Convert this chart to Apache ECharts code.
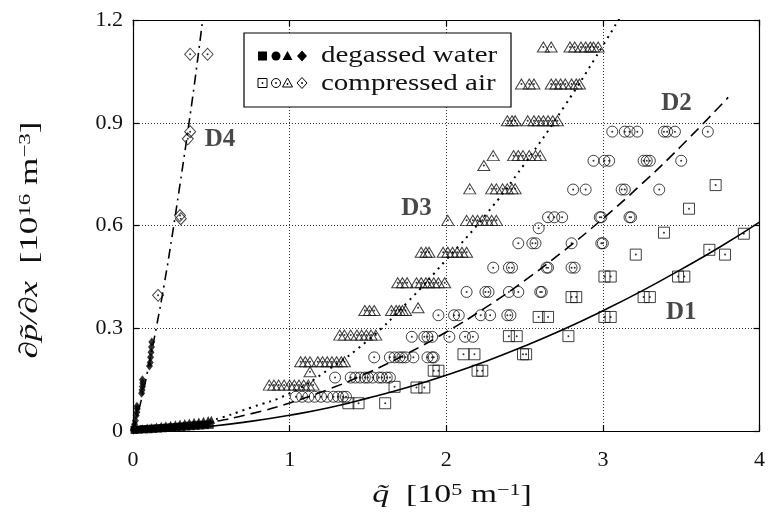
<!DOCTYPE html>
<html><head><meta charset="utf-8">
<script src="https://cdn.jsdelivr.net/npm/echarts@6/dist/echarts.min.js"></script>
<style>html,body{margin:0;padding:0;background:#fff}#c{width:768px;height:516px}</style>
</head><body><div id="c"></div>
<script>
// ---- tick labels ----
const xTickLabels = ['0', '1', '2', '3', '4'];
const yTickLabels = ['0', '0.3', '0.6', '0.9', '1.2'];

// ---- fitted curves ----
const curveD1 = [[0,0],[0.25,0.005],[0.5,0.014],[0.75,0.028],[1,0.046],[1.25,0.068],[1.5,0.096],[1.75,0.127],[2,0.163],[2.25,0.203],[2.5,0.248],[2.75,0.297],[3,0.351],[3.25,0.409],[3.5,0.472],[3.75,0.538],[4,0.61]];
const curveD2 = [[0,0],[0.25,0.009],[0.5,0.026],[0.75,0.05],[1,0.082],[1.25,0.122],[1.5,0.17],[1.75,0.226],[2,0.289],[2.25,0.36],[2.5,0.439],[2.75,0.526],[3,0.62],[3.25,0.722],[3.5,0.832],[3.8,0.974]];
const curveD3 = [[0,0],[0.25,0.008],[0.5,0.031],[0.75,0.068],[1,0.11],[1.25,0.18],[1.5,0.265],[1.75,0.375],[2,0.5],[2.25,0.63],[2.5,0.78],[2.75,0.945],[3,1.125],[3.15,1.24]];
const curveD4 = [[0,0],[0.05,0.085],[0.1,0.19],[0.15,0.305],[0.2,0.43],[0.25,0.57],[0.3,0.72],[0.35,0.875],[0.4,1.04],[0.45,1.22]];

// ---- degassed water (filled symbols) ----
const waterSquares = [[0.01,0.003],[0.04,0.004],[0.07,0.005],[0.10,0.005],[0.13,0.006],[0.16,0.007],[0.19,0.008],[0.22,0.009],[0.25,0.010],[0.28,0.011],[0.31,0.012],[0.34,0.013],[0.37,0.014],[0.40,0.015],[0.43,0.016],[0.46,0.017],[0.49,0.018]];
const waterCircles = [[0.02,0.004],[0.05,0.005],[0.08,0.006],[0.11,0.007],[0.14,0.008],[0.17,0.009],[0.20,0.010],[0.23,0.011],[0.26,0.012],[0.29,0.013],[0.32,0.014],[0.35,0.016],[0.38,0.017],[0.41,0.018],[0.44,0.019],[0.47,0.020]];
const waterTriangles = [[0.03,0.006],[0.06,0.008],[0.09,0.010],[0.12,0.012],[0.15,0.013],[0.18,0.015],[0.21,0.017],[0.24,0.018],[0.27,0.020],[0.30,0.022],[0.33,0.023],[0.36,0.025],[0.39,0.027],[0.42,0.028],[0.45,0.030],[0.48,0.032],[0.50,0.033]];
const waterDiamonds = [[0.002,0.002],[0.004,0.006],[0.006,0.012],[0.01,0.02],[0.015,0.03],[0.02,0.045],[0.025,0.055],[0.027,0.065],[0.025,0.072],[0.055,0.11],[0.058,0.12],[0.06,0.13],[0.062,0.14],[0.06,0.15],[0.105,0.19],[0.11,0.20],[0.112,0.215],[0.115,0.23],[0.118,0.245],[0.12,0.26]];

// ---- compressed air (open symbols) ----
const airSquares = [[3.72,0.718],[3.55,0.649],[3.39,0.579],[3.90,0.576],[3.21,0.515],[3.68,0.529],[3.78,0.515],
  [3.01,0.451],[3.05,0.451],[3.48,0.451],[3.52,0.451],
  [2.80,0.391],[2.83,0.391],[3.26,0.391],[3.30,0.391],
  [2.59,0.333],[2.65,0.333],[3.01,0.333],[3.05,0.333],
  [2.40,0.277],[2.45,0.277],[2.78,0.277],
  [2.11,0.224],[2.18,0.224],[2.49,0.224],[2.51,0.224],
  [1.92,0.176],[1.95,0.176],[2.20,0.176],[2.23,0.176],
  [1.67,0.129],[1.81,0.127],[1.86,0.127],
  [1.375,0.081],[1.44,0.081],[1.61,0.081]];
const airCircles = [
  [3.06,0.874],[3.14,0.874],[3.17,0.874],[3.22,0.874],[3.39,0.874],[3.41,0.874],[3.46,0.874],[3.67,0.874],
  [2.94,0.789],[3.01,0.789],[3.04,0.789],[3.26,0.789],[3.28,0.789],[3.30,0.789],[3.50,0.789],
  [2.81,0.705],[2.89,0.705],[3.12,0.705],[3.14,0.705],[3.36,0.705],
  [2.65,0.624],[2.69,0.624],[2.74,0.624],[2.98,0.624],[2.99,0.624],[3.17,0.624],[3.18,0.624],
  [2.59,0.592],
  [2.46,0.548],[2.55,0.548],[2.57,0.548],[2.80,0.548],[2.99,0.548],[3.00,0.548],
  [2.30,0.477],[2.40,0.477],[2.42,0.477],[2.64,0.477],[2.65,0.477],[2.80,0.477],[2.82,0.477],
  [2.13,0.406],[2.25,0.406],[2.27,0.406],[2.40,0.406],[2.46,0.406],[2.60,0.406],[2.61,0.406],
  [1.95,0.338],[2.05,0.338],[2.08,0.338],[2.22,0.338],[2.28,0.338],[2.39,0.338],[2.41,0.338],
  [1.78,0.275],[1.86,0.275],[1.88,0.275],[1.91,0.275],[2.02,0.275],[2.12,0.275],[2.17,0.275],
  [1.54,0.215],[1.64,0.215],[1.67,0.215],[1.70,0.215],[1.72,0.215],[1.74,0.215],[1.79,0.215],[1.88,0.215],[1.91,0.215],[1.92,0.215],
  [1.29,0.156],[1.39,0.156],[1.42,0.156],[1.45,0.156],[1.48,0.156],[1.50,0.156],[1.53,0.156],[1.57,0.156],[1.59,0.156],[1.62,0.156],[1.64,0.156],
  [1.04,0.10],[1.08,0.10],[1.12,0.10],[1.16,0.10],[1.20,0.10],[1.24,0.10],[1.28,0.10],[1.31,0.10],[1.34,0.10],[1.36,0.10]];
const airTriangles = [
  [2.62,1.121],[2.67,1.121],[2.79,1.121],[2.82,1.121],[2.86,1.121],[2.89,1.121],[2.92,1.121],[2.94,1.121],[2.97,1.121],
  [2.48,1.013],[2.53,1.013],[2.56,1.013],[2.67,1.013],[2.70,1.013],[2.73,1.013],[2.76,1.013],[2.80,1.013],[2.83,1.013],[2.85,1.013],
  [2.39,0.906],[2.42,0.906],[2.44,0.906],[2.52,0.906],[2.56,0.906],[2.59,0.906],[2.62,0.906],[2.65,0.906],[2.68,0.906],[2.71,0.906],
  [2.30,0.804],[2.43,0.804],[2.46,0.804],[2.49,0.804],[2.53,0.804],[2.57,0.804],[2.60,0.804],
  [2.24,0.775],
  [2.15,0.707],[2.29,0.707],[2.32,0.707],[2.36,0.707],[2.39,0.707],[2.42,0.707],[2.44,0.707],
  [2.01,0.615],[2.13,0.615],[2.17,0.615],[2.20,0.615],[2.23,0.615],[2.26,0.615],[2.29,0.615],[2.32,0.615],
  [1.84,0.522],[1.87,0.522],[1.89,0.522],[1.98,0.522],[2.01,0.522],[2.04,0.522],[2.07,0.522],[2.10,0.522],[2.13,0.522],
  [1.69,0.433],[1.72,0.433],[1.75,0.433],[1.81,0.433],[1.84,0.433],[1.87,0.433],[1.89,0.433],[1.92,0.433],[1.95,0.433],[1.99,0.433],
  [1.48,0.352],[1.51,0.352],[1.54,0.352],[1.65,0.352],[1.68,0.352],[1.70,0.352],[1.72,0.352],[1.74,0.352],
  [1.82,0.36],
  [1.32,0.280],[1.35,0.280],[1.39,0.280],[1.43,0.280],[1.46,0.280],[1.49,0.280],[1.52,0.280],[1.55,0.280],
  [1.07,0.202],[1.10,0.202],[1.13,0.202],[1.18,0.202],[1.21,0.202],[1.24,0.202],[1.27,0.202],[1.30,0.202],[1.33,0.202],[1.35,0.202],
  [1.13,0.173],
  [0.87,0.134],[0.90,0.134],[0.93,0.134],[0.965,0.134],[1.00,0.134],[1.03,0.134],[1.06,0.134],[1.09,0.134],[1.12,0.134],[1.15,0.134]];
const airDiamonds = [[0.365,1.10],[0.476,1.10],[0.365,0.874],[0.35,0.853],[0.30,0.629],[0.305,0.62],[0.16,0.396]];

// ---- curve labels ----
const curveLabels = [[0.555,0.85,'D4'],[1.81,0.65,'D3'],[3.47,0.955,'D2'],[3.50,0.347,'D1']];

const SERIF = '"Liberation Serif", "DejaVu Serif", serif';
const chart = echarts.init(document.getElementById('c'), null, {renderer:'canvas'});

const axisCommon = {
  axisLine: {show:true, onZero:false, lineStyle:{color:'#000', width:1.2}},
  axisTick: {show:true, inside:true, length:6, lineStyle:{color:'#000', width:1.2}},
};
const openStyle = {color:'rgba(0,0,0,0)', borderColor:'#111', borderWidth:1};
const fillStyle = {color:'#000'};
const lineCommon = {smooth:true, showSymbol:false, symbol:'none', silent:true, z:3};
const titleRich = {
  i:{fontStyle:'italic', fontFamily:'Liberation Serif', fontSize:26, fill:'#111'},
  s:{fontFamily:'Liberation Serif', fontSize:17, verticalAlign:'top', fill:'#111'}
};

const option = {
  animation: false,
  backgroundColor: '#fff',
  grid: {left:133, right:2, top:20, bottom:85, containLabel:false},
  xAxis: [
    Object.assign({type:'value', min:0, max:4, interval:1, position:'bottom',
      axisLabel:{show:true, margin:18, fontFamily:SERIF, fontSize:22, color:'#111', formatter:v=>xTickLabels[Math.round(v)]},
      splitLine:{show:true, lineStyle:{type:[1,2], color:'#333', width:1}}}, axisCommon),
    Object.assign({type:'value', min:0, max:4, interval:1, position:'top',
      axisLabel:{show:false}, splitLine:{show:false}}, axisCommon)
  ],
  yAxis: [
    Object.assign({type:'value', min:0, max:1.2, interval:0.3, position:'left',
      axisLabel:{show:true, margin:10, fontFamily:SERIF, fontSize:22, color:'#111', formatter:v=>yTickLabels[Math.round(v/0.3)]},
      splitLine:{show:true, lineStyle:{type:[1,2], color:'#333', width:1}}}, axisCommon),
    Object.assign({type:'value', min:0, max:1.2, interval:0.3, position:'right',
      axisLabel:{show:false}, splitLine:{show:false}}, axisCommon)
  ],
  series: [
    {type:'scatter', name:'air squares', data:airSquares, symbol:'rect', symbolSize:11, itemStyle:openStyle},
    {type:'scatter', name:'air circles', data:airCircles, symbol:'circle', symbolSize:11, itemStyle:openStyle},
    {type:'scatter', name:'air triangles', data:airTriangles, symbol:'triangle', symbolSize:[12,10], itemStyle:openStyle},
    {type:'scatter', name:'air diamonds', data:airDiamonds, symbol:'diamond', symbolSize:[11,12], itemStyle:openStyle},
    {type:'scatter', name:'air dots', data:[].concat(airSquares, airCircles, airTriangles, airDiamonds), symbol:'circle', symbolSize:2, itemStyle:fillStyle},
    {type:'scatter', name:'water squares', data:waterSquares, symbol:'rect', symbolSize:8, itemStyle:fillStyle},
    {type:'scatter', name:'water circles', data:waterCircles, symbol:'circle', symbolSize:8, itemStyle:fillStyle},
    {type:'scatter', name:'water triangles', data:waterTriangles, symbol:'triangle', symbolSize:8, itemStyle:fillStyle},
    {type:'scatter', name:'water diamonds', data:waterDiamonds, symbol:'diamond', symbolSize:[7,9], itemStyle:fillStyle},
    Object.assign({type:'line', name:'D1', data:curveD1, lineStyle:{color:'#000', width:1.6}}, lineCommon),
    Object.assign({type:'line', name:'D2', data:curveD2, lineStyle:{color:'#000', width:1.6, type:[11,6]}}, lineCommon),
    Object.assign({type:'line', name:'D3', data:curveD3, lineStyle:{color:'#000', width:2, type:[2,5]}}, lineCommon),
    Object.assign({type:'line', name:'D4', data:curveD4, lineStyle:{color:'#000', width:1.6, type:[10,5,2,5]}}, lineCommon),
    {type:'scatter', name:'labels', data:curveLabels, symbolSize:0, silent:true, z:5,
      label:{show:true, position:'inside', formatter:p=>p.value[2], fontFamily:SERIF, fontWeight:'bold', fontSize:25, color:'#1a1a1a'}}
  ],
  graphic: [
    // legend box
    {type:'rect', shape:{x:244, y:33, width:267, height:74}, style:{fill:'#fff', stroke:'#000', lineWidth:1.2}, z:100},
    {type:'rect', shape:{x:258, y:51.5, width:9, height:9}, style:{fill:'#000'}, z:101},
    {type:'circle', shape:{cx:276, cy:56, r:4.5}, style:{fill:'#000'}, z:101},
    {type:'polygon', shape:{points:[[287.5,51],[292.5,60],[282.5,60]]}, style:{fill:'#000'}, z:101},
    {type:'polygon', shape:{points:[[302,50.5],[307,56],[302,61.5],[297,56]]}, style:{fill:'#000'}, z:101},
    {type:'rect', shape:{x:258, y:78.5, width:9, height:9}, style:{fill:'none', stroke:'#000', lineWidth:1}, z:101},
    {type:'circle', shape:{cx:276, cy:83, r:4.5}, style:{fill:'none', stroke:'#000', lineWidth:1}, z:101},
    {type:'polygon', shape:{points:[[287.5,78],[292.5,87],[282.5,87]]}, style:{fill:'none', stroke:'#000', lineWidth:1}, z:101},
    {type:'polygon', shape:{points:[[302,77.5],[307,83],[302,88.5],[297,83]]}, style:{fill:'none', stroke:'#000', lineWidth:1}, z:101},
    {type:'circle', shape:{cx:262.5, cy:83, r:0.9}, style:{fill:'#000'}, z:102},
    {type:'circle', shape:{cx:276, cy:83, r:0.9}, style:{fill:'#000'}, z:102},
    {type:'circle', shape:{cx:287.5, cy:84, r:0.9}, style:{fill:'#000'}, z:102},
    {type:'circle', shape:{cx:302, cy:83, r:0.9}, style:{fill:'#000'}, z:102},
    {type:'text', x:321, y:56, scaleX:1.26, style:{text:'degassed water', font:'23px "Liberation Serif", serif', fill:'#111', verticalAlign:'middle'}, z:101},
    {type:'text', x:321, y:84, scaleX:1.26, style:{text:'compressed air', font:'23px "Liberation Serif", serif', fill:'#111', verticalAlign:'middle'}, z:101},
    // axis titles
    {type:'text', x:452, y:495, scaleX:1.3, style:{text:'{i|q\u0303}  [10{s|5} m{s|\u22121}]', align:'center', verticalAlign:'middle',
      font:'26px "Liberation Serif", serif', fill:'#111', rich:titleRich}},
    {type:'text', x:30, y:240, rotation:Math.PI/2, scaleX:1.35, style:{text:'{i|\u2202p\u0303/\u2202x}  [10{s|16} m{s|\u22123}]', align:'center', verticalAlign:'middle',
      font:'26px "Liberation Serif", serif', fill:'#111', rich:titleRich}}
  ]
};
chart.setOption(option);
</script>
</body></html>
